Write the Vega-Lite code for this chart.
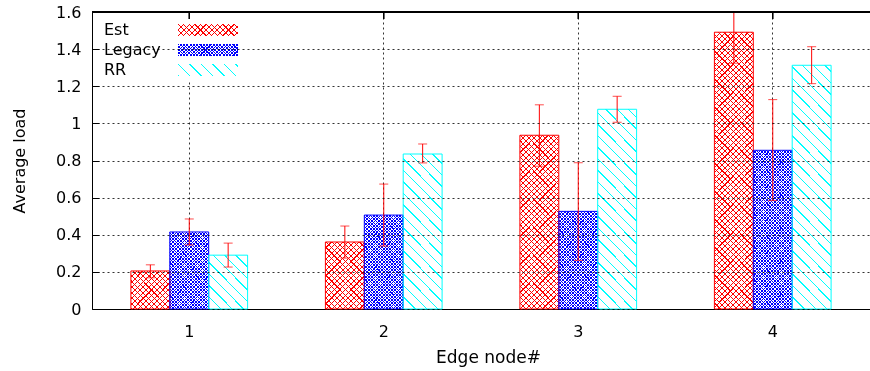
{
  "$schema": "https://vega.github.io/schema/vega-lite/v6.json",
  "width": 778,
  "height": 297,
  "autosize": {"type": "none"},
  "padding": {"left": 92, "top": 12, "right": 0, "bottom": 62},
  "background": "white",
  "config": {
    "view": {"stroke": null},
    "font": "DejaVu Sans",
    "axis": {"labelFont": "DejaVu Sans", "titleFont": "DejaVu Sans", "labelFontSize": 16, "titleFontSize": 16, "labelColor": "black", "titleColor": "black", "titleFontWeight": "normal", "domainColor": "black", "tickColor": "black", "gridColor": "black", "gridDash": [2, 3], "gridOpacity": 0.8},
    "axisY": {"tickCount": 8, "labelOverlap": false, "format": "~g"}
  },
  "params": [
    {"name": "estStops", "value": [
      {"offset":0,"color":"#f00"},{"offset":0.0035,"color":"#f00"},{"offset":0.0035,"color":"#fff"},{"offset":0.0175,"color":"#fff"},
      {"offset":0.0175,"color":"#f00"},{"offset":0.021,"color":"#f00"},{"offset":0.021,"color":"#fff"},{"offset":0.035,"color":"#fff"},
      {"offset":0.035,"color":"#f00"},{"offset":0.0385,"color":"#f00"},{"offset":0.0385,"color":"#fff"},{"offset":0.0525,"color":"#fff"},
      {"offset":0.0525,"color":"#f00"},{"offset":0.056,"color":"#f00"},{"offset":0.056,"color":"#fff"},{"offset":0.07,"color":"#fff"},
      {"offset":0.07,"color":"#f00"},{"offset":0.0735,"color":"#f00"},{"offset":0.0735,"color":"#fff"},{"offset":0.0875,"color":"#fff"},
      {"offset":0.0875,"color":"#f00"},{"offset":0.091,"color":"#f00"},{"offset":0.091,"color":"#fff"},{"offset":0.105,"color":"#fff"},
      {"offset":0.105,"color":"#f00"},{"offset":0.1085,"color":"#f00"},{"offset":0.1085,"color":"#fff"},{"offset":0.1225,"color":"#fff"},
      {"offset":0.1225,"color":"#f00"},{"offset":0.126,"color":"#f00"},{"offset":0.126,"color":"#fff"},{"offset":0.14,"color":"#fff"},
      {"offset":0.14,"color":"#f00"},{"offset":0.1435,"color":"#f00"},{"offset":0.1435,"color":"#fff"},{"offset":0.1575,"color":"#fff"},
      {"offset":0.1575,"color":"#f00"},{"offset":0.161,"color":"#f00"},{"offset":0.161,"color":"#fff"},{"offset":0.175,"color":"#fff"},
      {"offset":0.175,"color":"#f00"},{"offset":0.1785,"color":"#f00"},{"offset":0.1785,"color":"#fff"},{"offset":0.1925,"color":"#fff"},
      {"offset":0.1925,"color":"#f00"},{"offset":0.196,"color":"#f00"},{"offset":0.196,"color":"#fff"},{"offset":0.21,"color":"#fff"},
      {"offset":0.21,"color":"#f00"},{"offset":0.2135,"color":"#f00"},{"offset":0.2135,"color":"#fff"},{"offset":0.2275,"color":"#fff"},
      {"offset":0.2275,"color":"#f00"},{"offset":0.231,"color":"#f00"},{"offset":0.231,"color":"#fff"},{"offset":0.245,"color":"#fff"},
      {"offset":0.245,"color":"#f00"},{"offset":0.2485,"color":"#f00"},{"offset":0.2485,"color":"#fff"},{"offset":0.2625,"color":"#fff"},
      {"offset":0.2625,"color":"#f00"},{"offset":0.266,"color":"#f00"},{"offset":0.266,"color":"#fff"},{"offset":0.28,"color":"#fff"},
      {"offset":0.28,"color":"#f00"},{"offset":0.2835,"color":"#f00"},{"offset":0.2835,"color":"#fff"},{"offset":0.2975,"color":"#fff"},
      {"offset":0.2975,"color":"#f00"},{"offset":0.301,"color":"#f00"},{"offset":0.301,"color":"#fff"},{"offset":0.315,"color":"#fff"},
      {"offset":0.315,"color":"#f00"},{"offset":0.3185,"color":"#f00"},{"offset":0.3185,"color":"#fff"},{"offset":0.3325,"color":"#fff"},
      {"offset":0.3325,"color":"#f00"},{"offset":0.336,"color":"#f00"},{"offset":0.336,"color":"#fff"},{"offset":0.35,"color":"#fff"},
      {"offset":0.35,"color":"#f00"},{"offset":0.3535,"color":"#f00"},{"offset":0.3535,"color":"#fff"},{"offset":0.3675,"color":"#fff"},
      {"offset":0.3675,"color":"#f00"},{"offset":0.371,"color":"#f00"},{"offset":0.371,"color":"#fff"},{"offset":0.385,"color":"#fff"},
      {"offset":0.385,"color":"#f00"},{"offset":0.3885,"color":"#f00"},{"offset":0.3885,"color":"#fff"},{"offset":0.4025,"color":"#fff"},
      {"offset":0.4025,"color":"#f00"},{"offset":0.406,"color":"#f00"},{"offset":0.406,"color":"#fff"},{"offset":0.42,"color":"#fff"},
      {"offset":0.42,"color":"#f00"},{"offset":0.4235,"color":"#f00"},{"offset":0.4235,"color":"#fff"},{"offset":0.4375,"color":"#fff"},
      {"offset":0.4375,"color":"#f00"},{"offset":0.441,"color":"#f00"},{"offset":0.441,"color":"#fff"},{"offset":0.455,"color":"#fff"},
      {"offset":0.455,"color":"#f00"},{"offset":0.4585,"color":"#f00"},{"offset":0.4585,"color":"#fff"},{"offset":0.4725,"color":"#fff"},
      {"offset":0.4725,"color":"#f00"},{"offset":0.476,"color":"#f00"},{"offset":0.476,"color":"#fff"},{"offset":0.49,"color":"#fff"},
      {"offset":0.49,"color":"#f00"},{"offset":0.4935,"color":"#f00"},{"offset":0.4935,"color":"#fff"},{"offset":0.5075,"color":"#fff"},
      {"offset":0.5075,"color":"#f00"},{"offset":0.511,"color":"#f00"},{"offset":0.511,"color":"#fff"},{"offset":0.525,"color":"#fff"},
      {"offset":0.525,"color":"#f00"},{"offset":0.5285,"color":"#f00"},{"offset":0.5285,"color":"#fff"},{"offset":0.5425,"color":"#fff"},
      {"offset":0.5425,"color":"#f00"},{"offset":0.546,"color":"#f00"},{"offset":0.546,"color":"#fff"},{"offset":0.56,"color":"#fff"},
      {"offset":0.56,"color":"#f00"},{"offset":0.5635,"color":"#f00"},{"offset":0.5635,"color":"#fff"},{"offset":0.5775,"color":"#fff"},
      {"offset":0.5775,"color":"#f00"},{"offset":0.581,"color":"#f00"},{"offset":0.581,"color":"#fff"},{"offset":0.595,"color":"#fff"},
      {"offset":0.595,"color":"#f00"},{"offset":0.5985,"color":"#f00"},{"offset":0.5985,"color":"#fff"},{"offset":0.6125,"color":"#fff"},
      {"offset":0.6125,"color":"#f00"},{"offset":0.616,"color":"#f00"},{"offset":0.616,"color":"#fff"},{"offset":0.63,"color":"#fff"},
      {"offset":0.63,"color":"#f00"},{"offset":0.6335,"color":"#f00"},{"offset":0.6335,"color":"#fff"},{"offset":0.6475,"color":"#fff"},
      {"offset":0.6475,"color":"#f00"},{"offset":0.651,"color":"#f00"},{"offset":0.651,"color":"#fff"},{"offset":0.665,"color":"#fff"},
      {"offset":0.665,"color":"#f00"},{"offset":0.6685,"color":"#f00"},{"offset":0.6685,"color":"#fff"},{"offset":0.6825,"color":"#fff"},
      {"offset":0.6825,"color":"#f00"},{"offset":0.686,"color":"#f00"},{"offset":0.686,"color":"#fff"},{"offset":0.7,"color":"#fff"},
      {"offset":0.7,"color":"#f00"},{"offset":0.7035,"color":"#f00"},{"offset":0.7035,"color":"#fff"},{"offset":0.7175,"color":"#fff"},
      {"offset":0.7175,"color":"#f00"},{"offset":0.721,"color":"#f00"},{"offset":0.721,"color":"#fff"},{"offset":0.735,"color":"#fff"},
      {"offset":0.735,"color":"#f00"},{"offset":0.7385,"color":"#f00"},{"offset":0.7385,"color":"#fff"},{"offset":0.7525,"color":"#fff"},
      {"offset":0.7525,"color":"#f00"},{"offset":0.756,"color":"#f00"},{"offset":0.756,"color":"#fff"},{"offset":0.77,"color":"#fff"},
      {"offset":0.77,"color":"#f00"},{"offset":0.7735,"color":"#f00"},{"offset":0.7735,"color":"#fff"},{"offset":0.7875,"color":"#fff"},
      {"offset":0.7875,"color":"#f00"},{"offset":0.791,"color":"#f00"},{"offset":0.791,"color":"#fff"},{"offset":0.805,"color":"#fff"},
      {"offset":0.805,"color":"#f00"},{"offset":0.8085,"color":"#f00"},{"offset":0.8085,"color":"#fff"},{"offset":0.8225,"color":"#fff"},
      {"offset":0.8225,"color":"#f00"},{"offset":0.826,"color":"#f00"},{"offset":0.826,"color":"#fff"},{"offset":0.84,"color":"#fff"},
      {"offset":0.84,"color":"#f00"},{"offset":0.8435,"color":"#f00"},{"offset":0.8435,"color":"#fff"},{"offset":0.8575,"color":"#fff"},
      {"offset":0.8575,"color":"#f00"},{"offset":0.861,"color":"#f00"},{"offset":0.861,"color":"#fff"},{"offset":0.875,"color":"#fff"},
      {"offset":0.875,"color":"#f00"},{"offset":0.8785,"color":"#f00"},{"offset":0.8785,"color":"#fff"},{"offset":0.8925,"color":"#fff"},
      {"offset":0.8925,"color":"#f00"},{"offset":0.896,"color":"#f00"},{"offset":0.896,"color":"#fff"},{"offset":0.91,"color":"#fff"},
      {"offset":0.91,"color":"#f00"},{"offset":0.9135,"color":"#f00"},{"offset":0.9135,"color":"#fff"},{"offset":0.9275,"color":"#fff"},
      {"offset":0.9275,"color":"#f00"},{"offset":0.931,"color":"#f00"},{"offset":0.931,"color":"#fff"},{"offset":0.945,"color":"#fff"},
      {"offset":0.945,"color":"#f00"},{"offset":0.9485,"color":"#f00"},{"offset":0.9485,"color":"#fff"},{"offset":0.9625,"color":"#fff"},
      {"offset":0.9625,"color":"#f00"},{"offset":0.966,"color":"#f00"},{"offset":0.966,"color":"#fff"},{"offset":0.98,"color":"#fff"},
      {"offset":0.98,"color":"#f00"},{"offset":0.9835,"color":"#f00"},{"offset":0.9835,"color":"#fff"},{"offset":1,"color":"#fff"}
    ]},
    {"name": "legStops", "value": [
      {"offset":0,"color":"#00f"},{"offset":0.005,"color":"#00f"},{"offset":0.005,"color":"#fff"},{"offset":0.016,"color":"#fff"},
      {"offset":0.016,"color":"#00f"},{"offset":0.021,"color":"#00f"},{"offset":0.021,"color":"#fff"},{"offset":0.032,"color":"#fff"},
      {"offset":0.032,"color":"#00f"},{"offset":0.037,"color":"#00f"},{"offset":0.037,"color":"#fff"},{"offset":0.048,"color":"#fff"},
      {"offset":0.048,"color":"#00f"},{"offset":0.053,"color":"#00f"},{"offset":0.053,"color":"#fff"},{"offset":0.064,"color":"#fff"},
      {"offset":0.064,"color":"#00f"},{"offset":0.069,"color":"#00f"},{"offset":0.069,"color":"#fff"},{"offset":0.08,"color":"#fff"},
      {"offset":0.08,"color":"#00f"},{"offset":0.085,"color":"#00f"},{"offset":0.085,"color":"#fff"},{"offset":0.096,"color":"#fff"},
      {"offset":0.096,"color":"#00f"},{"offset":0.101,"color":"#00f"},{"offset":0.101,"color":"#fff"},{"offset":0.112,"color":"#fff"},
      {"offset":0.112,"color":"#00f"},{"offset":0.117,"color":"#00f"},{"offset":0.117,"color":"#fff"},{"offset":0.128,"color":"#fff"},
      {"offset":0.128,"color":"#00f"},{"offset":0.133,"color":"#00f"},{"offset":0.133,"color":"#fff"},{"offset":0.144,"color":"#fff"},
      {"offset":0.144,"color":"#00f"},{"offset":0.149,"color":"#00f"},{"offset":0.149,"color":"#fff"},{"offset":0.16,"color":"#fff"},
      {"offset":0.16,"color":"#00f"},{"offset":0.165,"color":"#00f"},{"offset":0.165,"color":"#fff"},{"offset":0.176,"color":"#fff"},
      {"offset":0.176,"color":"#00f"},{"offset":0.181,"color":"#00f"},{"offset":0.181,"color":"#fff"},{"offset":0.192,"color":"#fff"},
      {"offset":0.192,"color":"#00f"},{"offset":0.197,"color":"#00f"},{"offset":0.197,"color":"#fff"},{"offset":0.208,"color":"#fff"},
      {"offset":0.208,"color":"#00f"},{"offset":0.213,"color":"#00f"},{"offset":0.213,"color":"#fff"},{"offset":0.224,"color":"#fff"},
      {"offset":0.224,"color":"#00f"},{"offset":0.229,"color":"#00f"},{"offset":0.229,"color":"#fff"},{"offset":0.24,"color":"#fff"},
      {"offset":0.24,"color":"#00f"},{"offset":0.245,"color":"#00f"},{"offset":0.245,"color":"#fff"},{"offset":0.256,"color":"#fff"},
      {"offset":0.256,"color":"#00f"},{"offset":0.261,"color":"#00f"},{"offset":0.261,"color":"#fff"},{"offset":0.272,"color":"#fff"},
      {"offset":0.272,"color":"#00f"},{"offset":0.277,"color":"#00f"},{"offset":0.277,"color":"#fff"},{"offset":0.288,"color":"#fff"},
      {"offset":0.288,"color":"#00f"},{"offset":0.293,"color":"#00f"},{"offset":0.293,"color":"#fff"},{"offset":0.304,"color":"#fff"},
      {"offset":0.304,"color":"#00f"},{"offset":0.309,"color":"#00f"},{"offset":0.309,"color":"#fff"},{"offset":0.32,"color":"#fff"},
      {"offset":0.32,"color":"#00f"},{"offset":0.325,"color":"#00f"},{"offset":0.325,"color":"#fff"},{"offset":0.336,"color":"#fff"},
      {"offset":0.336,"color":"#00f"},{"offset":0.341,"color":"#00f"},{"offset":0.341,"color":"#fff"},{"offset":0.352,"color":"#fff"},
      {"offset":0.352,"color":"#00f"},{"offset":0.357,"color":"#00f"},{"offset":0.357,"color":"#fff"},{"offset":0.368,"color":"#fff"},
      {"offset":0.368,"color":"#00f"},{"offset":0.373,"color":"#00f"},{"offset":0.373,"color":"#fff"},{"offset":0.384,"color":"#fff"},
      {"offset":0.384,"color":"#00f"},{"offset":0.389,"color":"#00f"},{"offset":0.389,"color":"#fff"},{"offset":0.4,"color":"#fff"},
      {"offset":0.4,"color":"#00f"},{"offset":0.405,"color":"#00f"},{"offset":0.405,"color":"#fff"},{"offset":0.416,"color":"#fff"},
      {"offset":0.416,"color":"#00f"},{"offset":0.421,"color":"#00f"},{"offset":0.421,"color":"#fff"},{"offset":0.432,"color":"#fff"},
      {"offset":0.432,"color":"#00f"},{"offset":0.437,"color":"#00f"},{"offset":0.437,"color":"#fff"},{"offset":0.448,"color":"#fff"},
      {"offset":0.448,"color":"#00f"},{"offset":0.453,"color":"#00f"},{"offset":0.453,"color":"#fff"},{"offset":0.464,"color":"#fff"},
      {"offset":0.464,"color":"#00f"},{"offset":0.469,"color":"#00f"},{"offset":0.469,"color":"#fff"},{"offset":0.48,"color":"#fff"},
      {"offset":0.48,"color":"#00f"},{"offset":0.485,"color":"#00f"},{"offset":0.485,"color":"#fff"},{"offset":0.496,"color":"#fff"},
      {"offset":0.496,"color":"#00f"},{"offset":0.501,"color":"#00f"},{"offset":0.501,"color":"#fff"},{"offset":0.512,"color":"#fff"},
      {"offset":0.512,"color":"#00f"},{"offset":0.517,"color":"#00f"},{"offset":0.517,"color":"#fff"},{"offset":0.528,"color":"#fff"},
      {"offset":0.528,"color":"#00f"},{"offset":0.533,"color":"#00f"},{"offset":0.533,"color":"#fff"},{"offset":0.544,"color":"#fff"},
      {"offset":0.544,"color":"#00f"},{"offset":0.549,"color":"#00f"},{"offset":0.549,"color":"#fff"},{"offset":0.56,"color":"#fff"},
      {"offset":0.56,"color":"#00f"},{"offset":0.565,"color":"#00f"},{"offset":0.565,"color":"#fff"},{"offset":0.576,"color":"#fff"},
      {"offset":0.576,"color":"#00f"},{"offset":0.581,"color":"#00f"},{"offset":0.581,"color":"#fff"},{"offset":0.592,"color":"#fff"},
      {"offset":0.592,"color":"#00f"},{"offset":0.597,"color":"#00f"},{"offset":0.597,"color":"#fff"},{"offset":0.608,"color":"#fff"},
      {"offset":0.608,"color":"#00f"},{"offset":0.613,"color":"#00f"},{"offset":0.613,"color":"#fff"},{"offset":0.624,"color":"#fff"},
      {"offset":0.624,"color":"#00f"},{"offset":0.629,"color":"#00f"},{"offset":0.629,"color":"#fff"},{"offset":0.64,"color":"#fff"},
      {"offset":0.64,"color":"#00f"},{"offset":0.645,"color":"#00f"},{"offset":0.645,"color":"#fff"},{"offset":0.656,"color":"#fff"},
      {"offset":0.656,"color":"#00f"},{"offset":0.661,"color":"#00f"},{"offset":0.661,"color":"#fff"},{"offset":0.672,"color":"#fff"},
      {"offset":0.672,"color":"#00f"},{"offset":0.677,"color":"#00f"},{"offset":0.677,"color":"#fff"},{"offset":0.688,"color":"#fff"},
      {"offset":0.688,"color":"#00f"},{"offset":0.693,"color":"#00f"},{"offset":0.693,"color":"#fff"},{"offset":0.704,"color":"#fff"},
      {"offset":0.704,"color":"#00f"},{"offset":0.709,"color":"#00f"},{"offset":0.709,"color":"#fff"},{"offset":0.72,"color":"#fff"},
      {"offset":0.72,"color":"#00f"},{"offset":0.725,"color":"#00f"},{"offset":0.725,"color":"#fff"},{"offset":0.736,"color":"#fff"},
      {"offset":0.736,"color":"#00f"},{"offset":0.741,"color":"#00f"},{"offset":0.741,"color":"#fff"},{"offset":0.752,"color":"#fff"},
      {"offset":0.752,"color":"#00f"},{"offset":0.757,"color":"#00f"},{"offset":0.757,"color":"#fff"},{"offset":0.768,"color":"#fff"},
      {"offset":0.768,"color":"#00f"},{"offset":0.773,"color":"#00f"},{"offset":0.773,"color":"#fff"},{"offset":0.784,"color":"#fff"},
      {"offset":0.784,"color":"#00f"},{"offset":0.789,"color":"#00f"},{"offset":0.789,"color":"#fff"},{"offset":0.8,"color":"#fff"},
      {"offset":0.8,"color":"#00f"},{"offset":0.805,"color":"#00f"},{"offset":0.805,"color":"#fff"},{"offset":0.816,"color":"#fff"},
      {"offset":0.816,"color":"#00f"},{"offset":0.821,"color":"#00f"},{"offset":0.821,"color":"#fff"},{"offset":0.832,"color":"#fff"},
      {"offset":0.832,"color":"#00f"},{"offset":0.837,"color":"#00f"},{"offset":0.837,"color":"#fff"},{"offset":0.848,"color":"#fff"},
      {"offset":0.848,"color":"#00f"},{"offset":0.853,"color":"#00f"},{"offset":0.853,"color":"#fff"},{"offset":0.864,"color":"#fff"},
      {"offset":0.864,"color":"#00f"},{"offset":0.869,"color":"#00f"},{"offset":0.869,"color":"#fff"},{"offset":0.88,"color":"#fff"},
      {"offset":0.88,"color":"#00f"},{"offset":0.885,"color":"#00f"},{"offset":0.885,"color":"#fff"},{"offset":0.896,"color":"#fff"},
      {"offset":0.896,"color":"#00f"},{"offset":0.901,"color":"#00f"},{"offset":0.901,"color":"#fff"},{"offset":0.912,"color":"#fff"},
      {"offset":0.912,"color":"#00f"},{"offset":0.917,"color":"#00f"},{"offset":0.917,"color":"#fff"},{"offset":0.928,"color":"#fff"},
      {"offset":0.928,"color":"#00f"},{"offset":0.933,"color":"#00f"},{"offset":0.933,"color":"#fff"},{"offset":0.944,"color":"#fff"},
      {"offset":0.944,"color":"#00f"},{"offset":0.949,"color":"#00f"},{"offset":0.949,"color":"#fff"},{"offset":0.96,"color":"#fff"},
      {"offset":0.96,"color":"#00f"},{"offset":0.965,"color":"#00f"},{"offset":0.965,"color":"#fff"},{"offset":0.976,"color":"#fff"},
      {"offset":0.976,"color":"#00f"},{"offset":0.981,"color":"#00f"},{"offset":0.981,"color":"#fff"},{"offset":1,"color":"#fff"}
    ]},
    {"name": "rrStops", "value": [
      {"offset":0,"color":"#0ff"},{"offset":0.005,"color":"#0ff"},{"offset":0.005,"color":"#fff"},{"offset":0.04,"color":"#fff"},
      {"offset":0.04,"color":"#0ff"},{"offset":0.045,"color":"#0ff"},{"offset":0.045,"color":"#fff"},{"offset":0.08,"color":"#fff"},
      {"offset":0.08,"color":"#0ff"},{"offset":0.085,"color":"#0ff"},{"offset":0.085,"color":"#fff"},{"offset":0.12,"color":"#fff"},
      {"offset":0.12,"color":"#0ff"},{"offset":0.125,"color":"#0ff"},{"offset":0.125,"color":"#fff"},{"offset":0.16,"color":"#fff"},
      {"offset":0.16,"color":"#0ff"},{"offset":0.165,"color":"#0ff"},{"offset":0.165,"color":"#fff"},{"offset":0.2,"color":"#fff"},
      {"offset":0.2,"color":"#0ff"},{"offset":0.205,"color":"#0ff"},{"offset":0.205,"color":"#fff"},{"offset":0.24,"color":"#fff"},
      {"offset":0.24,"color":"#0ff"},{"offset":0.245,"color":"#0ff"},{"offset":0.245,"color":"#fff"},{"offset":0.28,"color":"#fff"},
      {"offset":0.28,"color":"#0ff"},{"offset":0.285,"color":"#0ff"},{"offset":0.285,"color":"#fff"},{"offset":0.32,"color":"#fff"},
      {"offset":0.32,"color":"#0ff"},{"offset":0.325,"color":"#0ff"},{"offset":0.325,"color":"#fff"},{"offset":0.36,"color":"#fff"},
      {"offset":0.36,"color":"#0ff"},{"offset":0.365,"color":"#0ff"},{"offset":0.365,"color":"#fff"},{"offset":0.4,"color":"#fff"},
      {"offset":0.4,"color":"#0ff"},{"offset":0.405,"color":"#0ff"},{"offset":0.405,"color":"#fff"},{"offset":0.44,"color":"#fff"},
      {"offset":0.44,"color":"#0ff"},{"offset":0.445,"color":"#0ff"},{"offset":0.445,"color":"#fff"},{"offset":0.48,"color":"#fff"},
      {"offset":0.48,"color":"#0ff"},{"offset":0.485,"color":"#0ff"},{"offset":0.485,"color":"#fff"},{"offset":0.52,"color":"#fff"},
      {"offset":0.52,"color":"#0ff"},{"offset":0.525,"color":"#0ff"},{"offset":0.525,"color":"#fff"},{"offset":0.56,"color":"#fff"},
      {"offset":0.56,"color":"#0ff"},{"offset":0.565,"color":"#0ff"},{"offset":0.565,"color":"#fff"},{"offset":0.6,"color":"#fff"},
      {"offset":0.6,"color":"#0ff"},{"offset":0.605,"color":"#0ff"},{"offset":0.605,"color":"#fff"},{"offset":0.64,"color":"#fff"},
      {"offset":0.64,"color":"#0ff"},{"offset":0.645,"color":"#0ff"},{"offset":0.645,"color":"#fff"},{"offset":0.68,"color":"#fff"},
      {"offset":0.68,"color":"#0ff"},{"offset":0.685,"color":"#0ff"},{"offset":0.685,"color":"#fff"},{"offset":0.72,"color":"#fff"},
      {"offset":0.72,"color":"#0ff"},{"offset":0.725,"color":"#0ff"},{"offset":0.725,"color":"#fff"},{"offset":0.76,"color":"#fff"},
      {"offset":0.76,"color":"#0ff"},{"offset":0.765,"color":"#0ff"},{"offset":0.765,"color":"#fff"},{"offset":0.8,"color":"#fff"},
      {"offset":0.8,"color":"#0ff"},{"offset":0.805,"color":"#0ff"},{"offset":0.805,"color":"#fff"},{"offset":0.84,"color":"#fff"},
      {"offset":0.84,"color":"#0ff"},{"offset":0.845,"color":"#0ff"},{"offset":0.845,"color":"#fff"},{"offset":0.88,"color":"#fff"},
      {"offset":0.88,"color":"#0ff"},{"offset":0.885,"color":"#0ff"},{"offset":0.885,"color":"#fff"},{"offset":0.92,"color":"#fff"},
      {"offset":0.92,"color":"#0ff"},{"offset":0.925,"color":"#0ff"},{"offset":0.925,"color":"#fff"},{"offset":0.96,"color":"#fff"},
      {"offset":0.96,"color":"#0ff"},{"offset":0.965,"color":"#0ff"},{"offset":0.965,"color":"#fff"},{"offset":1,"color":"#fff"}
    ]}
  ],
  "data": {"values": [
    {"node":"1","method":"Est","load":0.205,"lo":0.168,"hi":0.238},
    {"node":"1","method":"Legacy","load":0.415,"lo":0.345,"hi":0.485},
    {"node":"1","method":"RR","load":0.29,"lo":0.226,"hi":0.355},
    {"node":"2","method":"Est","load":0.361,"lo":0.274,"hi":0.447},
    {"node":"2","method":"Legacy","load":0.506,"lo":0.339,"hi":0.673},
    {"node":"2","method":"RR","load":0.835,"lo":0.787,"hi":0.889},
    {"node":"3","method":"Est","load":0.936,"lo":0.769,"hi":1.1},
    {"node":"3","method":"Legacy","load":0.526,"lo":0.262,"hi":0.788},
    {"node":"3","method":"RR","load":1.076,"lo":1.006,"hi":1.146},
    {"node":"4","method":"Est","load":1.491,"lo":1.324,"hi":1.658},
    {"node":"4","method":"Legacy","load":0.855,"lo":0.584,"hi":1.128},
    {"node":"4","method":"RR","load":1.313,"lo":1.214,"hi":1.413}
  ]},
  "resolve": {"scale": {"fill": "independent"}, "legend": {"fill": "independent"}},
  "layer": [
    {
      "mark": {"type": "bar", "strokeWidth": 0},
      "encoding": {
        "x": {"field": "node", "type": "nominal", "title": "Edge node#", "scale": {"paddingInner": 0, "paddingOuter": -0.0153, "align": 0},
              "axis": {"title": "Edge node#", "labelAngle": 0, "ticks": false, "grid": true, "labelPadding": 14, "titlePadding": 10, "titleFontSize": 17, "titleX": 396}},
        "xOffset": {"field": "method", "type": "nominal", "scale": {"domain": ["Est", "Legacy", "RR"], "paddingInner": 0, "paddingOuter": 1}},
        "y": {"datum": 0, "type": "quantitative", "title": "Average load", "scale": {"domain": [0, 1.6], "nice": false},
              "axis": {"title": "Average load", "tickCount": 8, "format": "~g", "labelOverlap": false, "tickSize": -7, "labelPadding": 18, "grid": true, "zindex": 1, "titlePadding": 28}},
        "fill": {"field": "method", "type": "nominal",
                 "scale": {"domain": ["Est", "Legacy", "RR"], "range": [
                   {"expr": "{'gradient':'linear','x1':0,'y1':1,'x2':5.128,'y2':-0.02564,'stops':estStops}"},
                   {"expr": "{'gradient':'linear','x1':0,'y1':1,'x2':3.305,'y2':0.33894,'stops':legStops}"},
                   {"expr": "{'gradient':'linear','x1':0,'y1':1,'x2':4.607,'y2':0.07853,'stops':rrStops}"}]},
                 "legend": {"title": null, "orient": "none", "legendX": 8, "legendY": 7, "direction": "vertical",
                            "symbolType": "M-5,-1H5V1H-5Z", "symbolSize": 144, "symbolOffset": 97, "labelOffset": -112,
                            "labelFont": "DejaVu Sans", "labelFontSize": 16, "labelColor": "black", "rowPadding": 4, "padding": 3,
                            "fillColor": "white", "symbolStrokeWidth": 0}}
      }
    },
    {
      "mark": {"type": "bar", "strokeWidth": 0},
      "encoding": {
        "x": {"field": "node", "type": "nominal", "title": "Edge node#"},
        "xOffset": {"field": "method", "type": "nominal"},
        "y": {"datum": 0, "type": "quantitative", "title": "Average load"},
        "fill": {"field": "method", "type": "nominal",
                 "scale": {"domain": ["Est", "Legacy", "RR"], "range": [
                   {"expr": "{'gradient':'linear','x1':0,'y1':0,'x2':5.128,'y2':1.02564,'stops':estStops}"},
                   {"expr": "{'gradient':'linear','x1':0,'y1':0,'x2':3.305,'y2':0.66106,'stops':legStops}"},
                   "white"]},
                 "legend": {"title": null, "orient": "none", "legendX": 8, "legendY": 7, "direction": "vertical",
                            "symbolType": "M-5,-1H5V1H-5Z", "symbolSize": 144, "symbolOffset": 97, "labelOffset": -112,
                            "labelFont": "DejaVu Sans", "labelFontSize": 16, "labelExpr": "''", "rowPadding": 4, "padding": 3,
                            "symbolStrokeWidth": 0,
                            "encode": {"symbols": {"update": {"blend": {"value": "multiply"}}}}}}
      }
    },
    {
      "mark": {"type": "bar", "strokeWidth": 0,
               "fill": {"expr": "{'gradient':'linear','x1':0,'y1':1,'x2':39.2*(datum.method=='Est'?320:datum.method=='Legacy'?206.25:287.5)/(1536.64+pow(datum.load*185.625,2)),'y2':1-datum.load*185.625*(datum.method=='Est'?320:datum.method=='Legacy'?206.25:287.5)/(1536.64+pow(datum.load*185.625,2)),'stops':datum.method=='Est'?estStops:datum.method=='Legacy'?legStops:rrStops}"}},
      "encoding": {
        "x": {"field": "node", "type": "nominal", "title": "Edge node#"},
        "xOffset": {"field": "method", "type": "nominal"},
        "y": {"field": "load", "type": "quantitative", "title": "Average load"}
      }
    },
    {
      "transform": [{"filter": "datum.method != 'RR'"}],
      "mark": {"type": "bar", "strokeWidth": 0, "blend": "multiply",
               "fill": {"expr": "{'gradient':'linear','x1':0,'y1':0,'x2':39.2*(datum.method=='Est'?320:206.25)/(1536.64+pow(datum.load*185.625,2)),'y2':datum.load*185.625*(datum.method=='Est'?320:206.25)/(1536.64+pow(datum.load*185.625,2)),'stops':datum.method=='Est'?estStops:legStops}"}},
      "encoding": {
        "x": {"field": "node", "type": "nominal", "title": "Edge node#"},
        "xOffset": {"field": "method", "type": "nominal"},
        "y": {"field": "load", "type": "quantitative", "title": "Average load"}
      }
    },
    {
      "mark": {"type": "bar", "fill": "transparent", "strokeWidth": 1},
      "encoding": {
        "x": {"field": "node", "type": "nominal", "title": "Edge node#"},
        "xOffset": {"field": "method", "type": "nominal"},
        "y": {"field": "load", "type": "quantitative", "title": "Average load"},
        "stroke": {"field": "method", "type": "nominal",
                   "scale": {"domain": ["Est", "Legacy", "RR"], "range": ["#ff0000", "#0000ff", "#00ffff"]},
                   "legend": {"title": null, "orient": "none", "legendX": 8, "legendY": 7, "direction": "vertical",
                              "symbolType": "M-5,-1H5V1H-5Z", "symbolSize": 144, "symbolOffset": 97, "labelOffset": -112,
                              "labelFont": "DejaVu Sans", "labelFontSize": 16, "labelExpr": "''", "rowPadding": 4, "padding": 3,
                              "symbolFillColor": "transparent", "symbolStrokeWidth": 1}}
      }
    },
    {
      "mark": {"type": "rule", "color": "#ff0000", "strokeWidth": 1, "clip": true},
      "encoding": {
        "x": {"field": "node", "type": "nominal", "title": "Edge node#"},
        "xOffset": {"field": "method", "type": "nominal"},
        "y": {"field": "lo", "type": "quantitative", "title": "Average load"},
        "y2": {"field": "hi"}
      }
    },
    {
      "mark": {"type": "tick", "color": "#ff0000", "thickness": 1, "size": 9, "orient": "horizontal", "clip": true},
      "encoding": {
        "x": {"field": "node", "type": "nominal", "title": "Edge node#"},
        "xOffset": {"field": "method", "type": "nominal"},
        "y": {"field": "lo", "type": "quantitative", "title": "Average load"}
      }
    },
    {
      "mark": {"type": "tick", "color": "#ff0000", "thickness": 1, "size": 9, "orient": "horizontal", "clip": true},
      "encoding": {
        "x": {"field": "node", "type": "nominal", "title": "Edge node#"},
        "xOffset": {"field": "method", "type": "nominal"},
        "y": {"field": "hi", "type": "quantitative", "title": "Average load"}
      }
    },
    {
      "mark": {"type": "rule", "color": "black", "strokeWidth": 1},
      "encoding": {"y": {"datum": 1.6, "type": "quantitative", "title": "Average load"}}
    },
    {
      "mark": {"type": "rule", "color": "black", "strokeWidth": 1},
      "encoding": {
        "x": {"field": "node", "type": "nominal", "title": "Edge node#"},
        "y": {"datum": 1.6, "type": "quantitative", "title": "Average load"},
        "y2": {"datum": 1.562}
      }
    }
  ]
}
